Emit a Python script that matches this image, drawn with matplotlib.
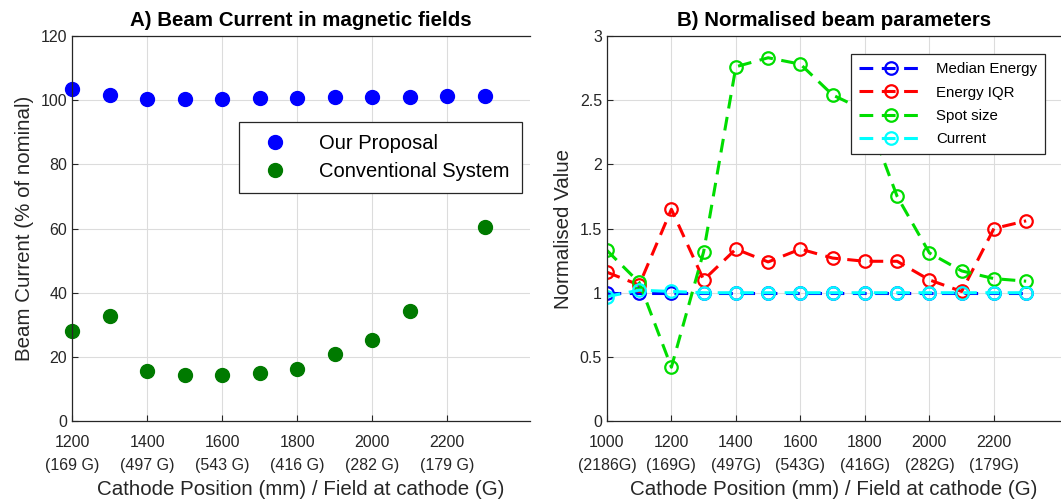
import numpy as np
import matplotlib
matplotlib.use("Agg")
import matplotlib.pyplot as plt

plt.rcParams['font.family'] = ['Liberation Sans', 'DejaVu Sans']

# panel A data
pos_a = [1200, 1300, 1400, 1500, 1600, 1700, 1800, 1900, 2000, 2100, 2200, 2300]
proposal = [103.4, 101.5, 100.2, 100.3, 100.5, 100.6, 100.8, 101.0, 101.1, 101.1, 101.2, 101.3]
pos_conv = [1200, 1300, 1400, 1500, 1600, 1700, 1800, 1900, 2000, 2100, 2300]
conventional = [28.0, 32.8, 15.7, 14.4, 14.4, 15.0, 16.2, 20.8, 25.2, 34.2, 60.4]
ticks_a = [1200, 1400, 1600, 1800, 2000, 2200]
fields_a = ['169 G', '497 G', '543 G', '416 G', '282 G', '179 G']

# panel B data
pos_b = [1000, 1100, 1200, 1300, 1400, 1500, 1600, 1700, 1800, 1900, 2000, 2100, 2200, 2300]
median_energy = [1.0, 1.0, 1.0, 1.0, 1.0, 1.0, 1.0, 1.0, 1.0, 1.0, 1.0, 1.0, 1.0, 1.0]
energy_iqr = [1.16, 1.06, 1.65, 1.10, 1.34, 1.24, 1.34, 1.27, 1.245, 1.245, 1.10, 1.01, 1.50, 1.56]
spot_size = [1.33, 1.08, 0.42, 1.32, 2.76, 2.83, 2.78, 2.54, 2.42, 1.75, 1.31, 1.17, 1.11, 1.09]
current = [0.97, 1.02, 1.01, 1.0, 1.0, 1.0, 1.0, 1.0, 1.0, 1.0, 1.0, 1.0, 1.0, 1.0]
ticks_b = [1000, 1200, 1400, 1600, 1800, 2000, 2200]
fields_b = ['2186G', '169G', '497G', '543G', '416G', '282G', '179G']

txt = '#262626'


def style_axes(ax):
    ax.grid(True, color='#dcdcdc', linewidth=0.8)
    ax.set_axisbelow(True)
    ax.tick_params(direction='in', length=4, colors=txt, labelsize=11.5, width=0.8)
    ax.tick_params(axis='x', pad=10)
    ax.spines['right'].set_visible(False)
    for s in ['left', 'bottom', 'top']:
        ax.spines[s].set_color(txt)
        ax.spines[s].set_linewidth(0.9)


fig = plt.figure(figsize=(10.61, 4.99), dpi=100)

ax1 = fig.add_axes([0.0679, 0.156, 0.4317, 0.772])
ax1.plot(pos_a, proposal, 'o', color='#0000ff', markersize=10, label='Our Proposal', clip_on=False)
ax1.plot(pos_conv, conventional, 'o', color='#007a00', markersize=10, label='Conventional System', clip_on=False)
ax1.set_xlim(1200, 2421)
ax1.set_ylim(0, 120)
ax1.set_yticks(np.arange(0, 121, 20))
ax1.set_xticks(ticks_a)
ax1.set_xticklabels(['%d\n(%s)' % (t, f) for t, f in zip(ticks_a, fields_a)], linespacing=1.7)
style_axes(ax1)
ax1.set_xlabel('Cathode Position (mm) / Field at cathode (G)', fontsize=14.8, color=txt, labelpad=5)
ax1.set_ylabel('Beam Current (% of nominal)', fontsize=14.8, color=txt, labelpad=5)
ax1.set_title('A) Beam Current in magnetic fields', fontsize=14.8, fontweight='bold', pad=7)
leg1 = ax1.legend(loc='upper right', bbox_to_anchor=(0.982, 0.777), fontsize=14.5, fancybox=False,
                  edgecolor=txt, framealpha=1, borderpad=0.6, handletextpad=1.0, handlelength=2.4,
                  labelspacing=0.45, borderaxespad=0)
leg1.get_frame().set_linewidth(0.9)

ax2 = fig.add_axes([0.572, 0.156, 0.428, 0.772])
ls = (0, (4.5, 2.8))
series = [(median_energy, '#0000ff', 'Median Energy'),
          (energy_iqr, '#ff0000', 'Energy IQR'),
          (spot_size, '#00dd00', 'Spot size'),
          (current, '#00ffff', 'Current')]
for vals, col, lab in series:
    ax2.plot(pos_b, vals, linestyle=ls, color=col, linewidth=2.2, marker='o', markersize=9,
             markerfacecolor='none', markeredgewidth=1.6, label=lab)
ax2.set_xlim(1000, 2408)
ax2.set_ylim(0, 3)
ax2.set_yticks(np.arange(0, 3.01, 0.5))
ax2.set_yticklabels(['0', '0.5', '1', '1.5', '2', '2.5', '3'])
ax2.set_xticks(ticks_b)
ax2.set_xticklabels(['%d\n(%s)' % (t, f) for t, f in zip(ticks_b, fields_b)], linespacing=1.7)
style_axes(ax2)
ax2.set_xlabel('Cathode Position (mm) / Field at cathode (G)', fontsize=14.8, color=txt, labelpad=5)
ax2.set_ylabel('Normalised Value', fontsize=14.8, color=txt, labelpad=5)
ax2.set_title('B) Normalised beam parameters', fontsize=14.8, fontweight='bold', pad=7)
leg2 = ax2.legend(loc='upper right', bbox_to_anchor=(0.965, 0.953), fontsize=10.8, fancybox=False,
                  edgecolor=txt, framealpha=1, borderpad=0.55, handletextpad=0.9, handlelength=4.2,
                  labelspacing=0.62, borderaxespad=0)
leg2.get_frame().set_linewidth(0.9)

fig.savefig('out.png', dpi=100)
